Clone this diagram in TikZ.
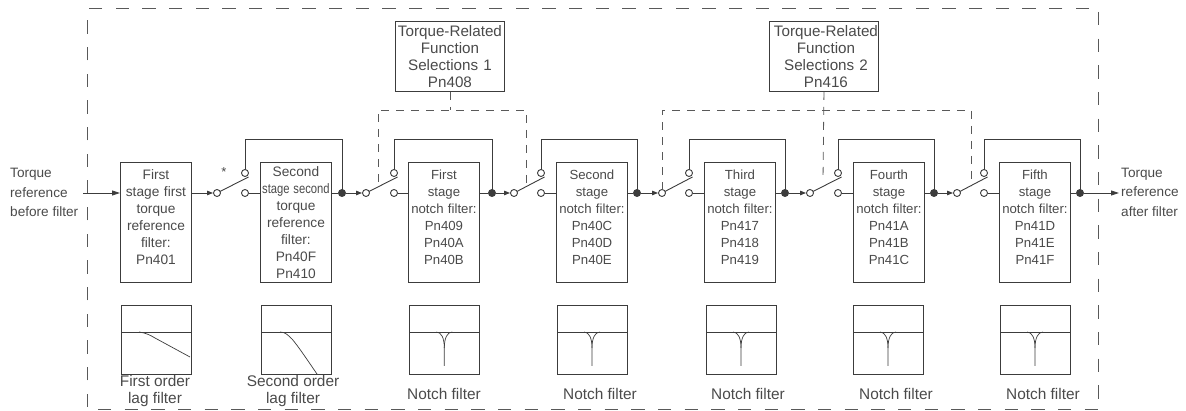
\documentclass[tikz,border=0pt]{standalone}
\usepackage{fontspec}
\setmainfont{Liberation Sans}
\usetikzlibrary{arrows.meta}
\definecolor{ink}{HTML}{3C3C3C}
\definecolor{txt}{HTML}{4A4A4A}
\newcommand{\fs}[1]{\fontsize{#1}{17}\selectfont}
\newcommand{\upfive}{\\[-7pt]\null}
\newcommand{\rsh}{\hspace*{4pt}}
\tikzset{
  wire/.style={draw=ink,line width=0.9pt},
  outerdash/.style={draw=ink!85,line width=0.9pt,dash pattern=on 13.3pt off 13.37pt},
  ctrldash/.style={draw=ink!85,line width=0.8pt,dash pattern=on 8pt off 7pt},
  tip/.style={-{Triangle[length=8pt,width=5pt]}},
  smalltip/.style={-{Triangle[length=6pt,width=4.5pt]}},
  filterbox/.style={draw=ink,line width=0.9pt,anchor=north west,inner sep=0pt,minimum width=71pt,minimum height=120pt,text width=71pt,align=center,text=txt},
  graphbox/.style={draw=ink,line width=0.9pt,anchor=north west,inner sep=0pt,minimum width=69.5pt,minimum height=69pt},
  ctrlbox/.style={draw=ink,line width=0.9pt,anchor=north west,inner sep=0pt,minimum width=109pt,minimum height=70pt,text width=109pt,align=center,text=txt,font=\fs{15.2}},
  contact/.style={circle,draw=ink,line width=0.9pt,fill=white,inner sep=0pt,minimum size=7pt},
  junction/.style={circle,fill=ink,inner sep=0pt,minimum size=8pt},
  plaintext/.style={inner sep=0pt,align=center,text=txt},
  sidetext/.style={inner sep=0pt,align=left,text=txt,font=\fontsize{13.6}{19.5}\selectfont,anchor=west},
  caption/.style={inner sep=0pt,align=center,text=txt,font=\fs{15.4}}
}
\begin{document}
\begin{tikzpicture}[x=1pt,y=-1pt]
\useasboundingbox (0,0) rectangle (1186,411);
% outer frame
\coordinate (ftl) at (87,8); \coordinate (fbl) at (87,407);
\coordinate (ftr) at (1089,8); \coordinate (frt) at (1098,12);
\coordinate (frb) at (1098,399); \coordinate (fbs) at (98,409); \coordinate (fbe) at (1098.5,409);
\draw[outerdash] (fbl) -- (ftl);
\draw[outerdash] (ftr) -- (ftl);
\draw[outerdash] (frt) -- (frb);
\draw[outerdash] (fbs) -- (fbe);
% filter boxes
\node[filterbox,font=\fs{13.7}] (b1) at (120,162) {First\\stage first\\torque\\reference\\filter:\\Pn401\upfive};
\node[filterbox,font=\fs{13.7}] (b2) at (260,162) {Second\\\scalebox{0.82}[1]{stage second}\\torque\\reference\\filter:\\Pn40F\\Pn410};
\node[filterbox,font=\fs{13.2}] (b3) at (408,162) {First\\stage\\notch filter:\\Pn409\\Pn40A\\Pn40B\upfive};
\node[filterbox,font=\fs{13.2}] (b4) at (556,162) {Second\\stage\\notch filter:\\Pn40C\\Pn40D\\Pn40E\upfive};
\node[filterbox,font=\fs{13.2}] (b5) at (704,162) {Third\\stage\\notch filter:\\Pn417\\Pn418\\Pn419\upfive};
\node[filterbox,font=\fs{13.2}] (b6) at (853,162) {Fourth\\stage\\notch filter:\\Pn41A\\Pn41B\\Pn41C\upfive};
\node[filterbox,font=\fs{13.2}] (b7) at (999,162) {Fifth\\stage\\notch filter:\\Pn41D\\Pn41E\\Pn41F\upfive};
% control boxes
\node[ctrlbox] (c1) at (395,21) {Torque-Related\\Function\\Selections 1\\Pn408};
\node[ctrlbox] (c2) at (769,21) {\rsh Torque-Related\\\rsh Function\\\rsh Selections 2\\\rsh Pn416};
% switches
\foreach \n/\xi/\xc/\xd in {1/217/245/342,2/366/394/492,3/514/541/637,4/662/689/785,5/810/838/934,6/957/984/1080}{
  \draw[wire] (\xc,173) -- (\xc,139) -- (\xd,139) -- (\xd,193);
  \draw[wire] (\xi,193) -- ({\xc+3.5},177);
  \node[contact] (in\n) at (\xi,193) {};
  \node[contact] (up\n) at (\xc,173) {};
  \node[contact] (lo\n) at (\xc,193) {};
  \node[junction] (j\n) at (\xd,193) {};
}
% signal path
\node[sidetext] (inlabel) at (10,192.5) {Torque\\reference\\before filter};
\node[sidetext] (outlabel) at (1121,192) {Torque\\reference\\after filter};
\coordinate (instart) at (83,193);
\coordinate (outend) at (1119,193);
\draw[wire,tip] (instart) -- (b1.west |- instart);
\draw[wire,smalltip] (b1.east |- in1) -- (in1);
\draw[wire] (lo1) -- (b2.west |- lo1);
\draw[wire] (b2.east |- j1) -- (j1);
\draw[wire,smalltip] (j1) -- (in2);
\draw[wire] (lo2) -- (b3.west |- lo2);
\draw[wire] (b3.east |- j2) -- (j2);
\draw[wire,smalltip] (j2) -- (in3);
\draw[wire] (lo3) -- (b4.west |- lo3);
\draw[wire] (b4.east |- j3) -- (j3);
\draw[wire,smalltip] (j3) -- (in4);
\draw[wire] (lo4) -- (b5.west |- lo4);
\draw[wire] (b5.east |- j4) -- (j4);
\draw[wire,smalltip] (j4) -- (in5);
\draw[wire] (lo5) -- (b6.west |- lo5);
\draw[wire] (b6.east |- j5) -- (j5);
\draw[wire,smalltip] (j5) -- (in6);
\draw[wire] (lo6) -- (b7.west |- lo6);
\draw[wire] (b7.east |- j6) -- (j6);
\draw[wire,tip] (j6) -- (outend);
% asterisk
\node[plaintext,font=\fs{13}] (star) at (224,172) {*};
% dashed control lines
\coordinate (s1l) at (378,110); \coordinate (s1r) at (526,110);
\coordinate (s2l) at (662,110); \coordinate (s2r) at (971,110);
\coordinate (e1l) at (378,182); \coordinate (e1r) at (526,187);
\coordinate (e2l) at (662,190); \coordinate (e2m) at (823,181); \coordinate (e2r) at (971,186);
\draw[ctrldash] (e1l) -- (s1l) -- (s1r) -- (e1r);
\draw[ctrldash] (c1.south) -- (c1.south |- s1l);
\draw[ctrldash] (e2l) -- (s2l) -- (s2r) -- (e2r);
\draw[ctrldash] (c2.south) -- (e2m);
% response graphs
\foreach \n/\x in {1/121,2/261,3/409.3,4/557.2,5/706.2,6/853.3,7/1000}{
  \node[graphbox] (g\n) at (\x,305) {};
  \draw[wire] (g\n.west |- 0,332) -- (g\n.east |- 0,332);
}
\draw[wire,line width=0.7pt] (139,332) .. controls (146,333) and (150,335) .. (155,338) -- (190,357);
\draw[wire,line width=0.7pt] (280,332) .. controls (285,332) and (288,335) .. (292,339) .. controls (298,346) and (306,358) .. (317,374);
\foreach \x in {444.3,592,741,888,1035}{
  \draw[wire,line width=0.7pt] ({\x-8},332) .. controls ({\x-3},332) and (\x,338) .. (\x,348) -- (\x,366);
  \draw[wire,line width=0.7pt] ({\x+8},332) .. controls ({\x+3},332) and (\x,338) .. (\x,348);
}
% captions
\node[caption] (cap1) at (155,391.5) {First order\\lag filter};
\node[caption] (cap2) at (293,391.5) {Second order\\lag filter};
\node[caption] (cap3) at (444,393.5) {Notch filter};
\node[caption] (cap4) at (600,393.5) {Notch filter};
\node[caption] (cap5) at (748,393.5) {Notch filter};
\node[caption] (cap6) at (896,393.5) {Notch filter};
\node[caption] (cap7) at (1043,393.5) {Notch filter};
\end{tikzpicture}
\end{document}
